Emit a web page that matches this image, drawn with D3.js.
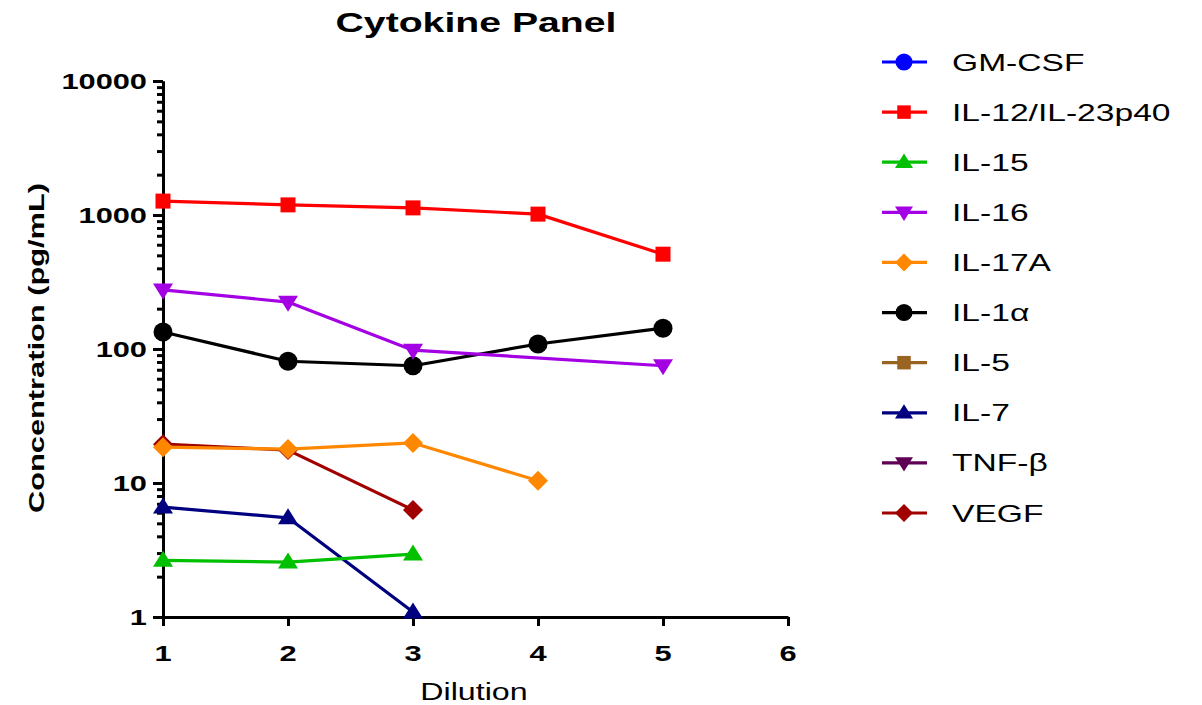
<!DOCTYPE html>
<html>
<head>
<meta charset="utf-8">
<script src="https://cdn.jsdelivr.net/npm/d3@7"></script>
<style>
  html, body { margin: 0; padding: 0; background: #fff; }
  svg { display: block; font-family: "Liberation Sans", Arial, sans-serif; }
</style>
</head>
<body>
<svg id="chart" width="1202" height="705"></svg>
<script>
// ---------------- data ----------------
const dilutions = [1, 2, 3, 4, 5];
const seriesNames = ["GM-CSF", "IL-12/IL-23p40", "IL-15", "IL-16", "IL-17A", "IL-1\u03B1", "IL-5", "IL-7", "TNF-\u03B2", "VEGF"];
const seriesColors = ["#0000ff", "#ff0000", "#00c000", "#a400e4", "#ff8800", "#000000", "#996322", "#000080", "#5f0055", "#a00000"];
const seriesSymbols = ["circle", "square", "triangle", "triangleDown", "diamond", "circle", "square", "triangle", "triangleDown", "diamond"];
// values per dilution (null = not shown)
const gmcsf   = [null, null, null, null, null];
const il12    = [1270, 1190, 1130, 1015, 510];
const il15    = [2.65, 2.57, 2.95, null, null];
const il16    = [276, 224, 98, null, 75];
const il17a   = [18.5, 17.9, 19.9, 10.4, null];
const il1a    = [134, 81, 75, 109, 143];
const il5     = [null, null, null, null, null];
const il7     = [6.6, 5.5, 1.09, null, null];
const tnfb    = [null, null, null, null, null];
const vegf    = [19.5, 17.6, 6.3, null, null];
const seriesValues = [gmcsf, il12, il15, il16, il17a, il1a, il5, il7, tnfb, vegf];
const xTicks = [1, 2, 3, 4, 5, 6];
const yMajorTicks = [1, 10, 100, 1000, 10000];
const yMinorTicks = [];
[1, 10, 100, 1000].forEach(d => { for (let k = 2; k <= 9; k++) yMinorTicks.push(d * k); });

// ---------------- layout ----------------
const svg = d3.select("#chart");
const SX = 1.4; // horizontal stretch of text as in reference
const x = d3.scaleLinear().domain([1, 6]).range([163, 788]);
const y = d3.scaleLog().domain([1, 10000]).range([617, 81]);

function stext(parent, px, py, str, o) {
  o = o || {};
  const rot = o.rotate ? ` rotate(${o.rotate})` : "";
  return parent.append("text")
    .attr("transform", `translate(${px},${py})${rot} scale(${SX},1)`)
    .attr("text-anchor", o.anchor || "start")
    .attr("font-size", o.size || 22)
    .attr("font-weight", o.weight || "normal")
    .attr("fill", "#000")
    .text(str);
}

// ---------------- axes ----------------
const yAxisMajor = d3.axisLeft(y).tickValues(yMajorTicks).tickSize(10).tickSizeOuter(0).tickFormat("");
const yAxisMinor = d3.axisLeft(y).tickValues(yMinorTicks).tickSize(6).tickSizeOuter(0).tickFormat("");
const xAxis = d3.axisBottom(x).tickValues(xTicks).tickSize(9).tickSizeOuter(0).tickFormat("");

const gy = svg.append("g").attr("transform", `translate(${x(1)},0)`);
gy.append("g").call(yAxisMinor);
gy.append("g").call(yAxisMajor);
const gx = svg.append("g").attr("transform", `translate(0,${y(1)})`).call(xAxis);

svg.selectAll(".domain").attr("stroke", "#000").attr("stroke-width", 3);
svg.selectAll(".tick line").attr("stroke", "#000").attr("stroke-width", 3);

yMajorTicks.forEach(v => stext(svg, 147, y(v) + 8, d3.format("d")(v), { anchor: "end", size: 22, weight: "bold" }));
xTicks.forEach(v => stext(svg, x(v), 661, String(v), { anchor: "middle", size: 22, weight: "bold" }));

// titles
stext(svg, 476, 32, "Cytokine Panel", { anchor: "middle", size: 28, weight: "bold" });
stext(svg, 474, 700, "Dilution", { anchor: "middle", size: 23 });
stext(svg, 44, 348, "Concentration (pg/mL)", { anchor: "middle", size: 22, weight: "bold", rotate: -90 });

// ---------------- symbols ----------------
function drawSymbol(g, type, cx, cy, color, s) {
  s = s || 1;
  if (type === "circle") {
    g.append("circle").attr("cx", cx).attr("cy", cy).attr("r", 9.5 * s).attr("fill", color);
  } else if (type === "square") {
    const h = 7.5 * s;
    g.append("rect").attr("x", cx - h).attr("y", cy - h).attr("width", 2 * h).attr("height", 2 * h).attr("fill", color);
  } else if (type === "triangle") {
    const w = 10 * s, ht = 16 * s;
    g.append("path").attr("d", `M${cx},${cy - ht * 0.6}L${cx + w},${cy + ht * 0.4}L${cx - w},${cy + ht * 0.4}Z`).attr("fill", color);
  } else if (type === "triangleDown") {
    const w = 10 * s, ht = 16 * s;
    g.append("path").attr("d", `M${cx},${cy + ht * 0.6}L${cx + w},${cy - ht * 0.4}L${cx - w},${cy - ht * 0.4}Z`).attr("fill", color);
  } else if (type === "diamond") {
    const r = 10 * s;
    g.append("path").attr("d", `M${cx},${cy - r}L${cx + r},${cy}L${cx},${cy + r}L${cx - r},${cy}Z`).attr("fill", color);
  }
}

// ---------------- series ----------------
const line = d3.line().x(d => x(d.x)).y(d => y(d.v));
const plot = svg.append("g");
for (let i = seriesNames.length - 1; i >= 0; i--) {
  const pts = dilutions.map((dx, j) => ({ x: dx, v: seriesValues[i][j] })).filter(d => d.v != null);
  if (!pts.length) continue;
  const g = plot.append("g");
  g.append("path").datum(pts).attr("d", line).attr("fill", "none")
    .attr("stroke", seriesColors[i]).attr("stroke-width", 3.2).attr("stroke-linejoin", "round");
  pts.forEach(d => drawSymbol(g, seriesSymbols[i], x(d.x), y(d.v), seriesColors[i], 1));
}

// ---------------- legend ----------------
const ly = d3.scaleLinear().domain([0, seriesNames.length - 1]).range([62, 513]);
const legend = svg.append("g");
seriesNames.forEach((name, i) => {
  const cy = ly(i);
  const g = legend.append("g");
  g.append("line").attr("x1", 882).attr("x2", 927).attr("y1", cy).attr("y2", cy)
    .attr("stroke", seriesColors[i]).attr("stroke-width", 3.2);
  drawSymbol(g, seriesSymbols[i], 904, cy, seriesColors[i], 0.9);
  stext(g, 952, cy + 8.5, name, { size: 24 });
});
</script>
</body>
</html>
